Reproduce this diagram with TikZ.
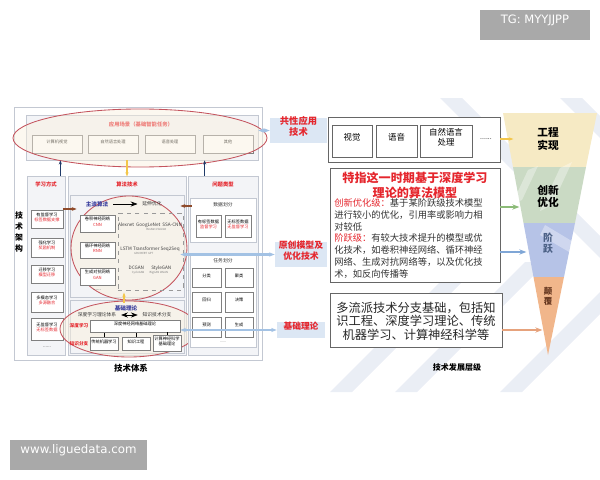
\documentclass[tikz,border=0pt]{standalone}
\usepackage{fontspec}
\setmainfont{Noto Sans CJK SC}
\newfontfamily\wmfont{DejaVu Sans}
\usetikzlibrary{arrows.meta,calc,fit}
\definecolor{panelg}{HTML}{F3F4F7}
\definecolor{frameg}{HTML}{C3C8D2}
\definecolor{cellg}{HTML}{808080}
\definecolor{hotred}{HTML}{E5262D}
\definecolor{ringred}{HTML}{C4545E}
\definecolor{ringfill}{HTML}{FAF1DE}
\definecolor{navy}{HTML}{1F3A68}
\definecolor{skyarr}{HTML}{A3C2E4}
\definecolor{skybox}{HTML}{DCE7F4}
\definecolor{rust}{HTML}{8E4A2A}
\definecolor{gold}{HTML}{F3C64A}
\definecolor{algoblue}{HTML}{3A3F9E}
\definecolor{fyellow}{HTML}{F6EAC4}
\definecolor{fgreen}{HTML}{CADAC4}
\definecolor{fblue}{HTML}{B6C3E7}
\definecolor{forange}{HTML}{F1B68B}
\definecolor{agreen}{HTML}{8CBB78}
\definecolor{ablue}{HTML}{7FA6D6}
\definecolor{aorange}{HTML}{E6A27C}
\definecolor{wmgray}{HTML}{A9A9A9}
\definecolor{stripe}{HTML}{DCE2EE}

\begin{document}
\begin{tikzpicture}[x=0.025cm, y=-0.025cm, >=Stealth,
    panel/.style={draw=frameg, fill=panelg, line width=0.5pt, inner sep=0pt},
    cell/.style={draw=cellg, fill=white, line width=0.4pt, inner sep=0pt, align=center,
      font=\fontsize{3}{3.8}\selectfont},
    ring/.style={draw=ringred, fill=ringfill, fill opacity=0.5, line width=0.6pt},
    coltitle/.style={text=hotred, font=\fontsize{3.8}{4.5}\selectfont\bfseries},
    subtitle/.style={text=black!80, font=\fontsize{3.4}{4}\selectfont},
    latin/.style={text=black!75, font=\fontsize{3.3}{4}\selectfont},
    skylabel/.style={fill=skybox, inner sep=0pt, align=center, text=hotred,
      font=\fontsize{6.6}{8}\selectfont\bfseries},
    textbox/.style={draw=black!60, fill=white, line width=0.5pt, inner sep=0pt},
    navyarr/.style={draw=navy, line width=1.1pt, -{Stealth[length=3pt]}},
    goldarr/.style={draw=gold, line width=0.9pt, -{Stealth[length=3pt]}},
    rustarr/.style={draw=rust, line width=1.6pt, -{Stealth[length=3.5pt]}},
    skyline/.style={draw=skyarr, line width=1.6pt, {Stealth[length=4pt]}-{Stealth[length=4pt]}},
    fanarr/.style={line width=1.8pt, -{Stealth[length=5pt]}},
    fanlabel/.style={align=center, font=\fontsize{7.6}{8.6}\selectfont\bfseries}]
\useasboundingbox (0,0) rectangle (600,480);

% watermark stripes behind the right half
\begin{scope}[fill=stripe, opacity=0.6]
  \fill (330,392) -- (352,392) -- (482,262) -- (460,262) -- cycle;
  \fill (395,392) -- (417,392) -- (547,262) -- (525,262) -- cycle;
  \fill (440,98) -- (462,98) -- (600,236) -- (600,258) -- cycle;
  \fill (500,392) -- (522,392) -- (600,314) -- (600,292) -- cycle;
  \fill (560,98) -- (582,98) -- (600,116) -- (600,138) -- cycle;
\end{scope}

% ---------- left: technology system ----------
\node[draw=frameg, fill=white, line width=0.5pt, inner sep=0pt, fit={(14,107) (262,360)}] (frame) {};
\node[align=center, font=\fontsize{5.6}{7.6}\selectfont\bfseries] (archlbl) at (19,232) {技\\术\\架\\构};

% application scenes
\node[panel, fit={(26,115) (258,160)}] (app) {};
\node[coltitle] (apptitle) at (141,124) {应用场景（基础智能任务）};
\node[cell, fit={(32,135) (82,153)}] (cv) {计算机视觉};
\node[cell, fit={(88,135) (138,153)}] (nlp) {自然语言处理};
\node[cell, fit={(145,135) (195,153)}] (speech) {语音处理};
\node[cell, fit={(203,135) (253,153)}] (other) {其他};

% learning modes
\node[panel, fit={(27,176) (65,355)}] (learn) {};
\node[coltitle] (learntitle) at (46,184) {学习方式};
\node[cell, fit={(31,210) (63,228)}] (sup) {有监督学习\\\textcolor{hotred}{标签数据支撑}};
\node[cell, fit={(31,238) (63,257)}] (rl) {强化学习\\\textcolor{hotred}{奖励机制}};
\node[cell, fit={(31,265) (63,283)}] (tl) {迁移学习\\\textcolor{hotred}{模型迁移}};
\node[cell, fit={(31,292) (63,312)}] (ml) {多模态学习\\\textcolor{hotred}{多源融合}};
\node[cell, fit={(31,318) (63,340)}] (unsup) {无监督学习\\\textcolor{hotred}{无标签数据}};
\node[subtitle] (learndots) at (47,347) {......};

% algorithm techniques
\node[panel, fit={(68,176) (186,355)}] (algo) {};
\node[coltitle] (algotitle) at (127,184) {算法技术};
\node[panel, fit={(70,195) (184,297)}] (mainsub) {};
\node[panel, fit={(70,300) (184,353)}] (theory) {};

\draw[ring] (129,248) ellipse [x radius=58, y radius=52];
\draw[ring] (129,329) ellipse [x radius=69, y radius=28];

\node[text=algoblue, font=\fontsize{4}{4.8}\selectfont\bfseries] (mainalg) at (97,204) {主流算法};
\node[subtitle] (extalg) at (152,204) {延伸优化};
\draw[->, line width=0.4pt] (mainalg) -- (extalg);
\node[cell, fit={(80,215) (115,232)}] (cnn) {卷积神经网络\\\textcolor{hotred}{CNN}};
\node[cell, fit={(80,242) (115,258)}] (rnn) {循环神经网络\\\textcolor{hotred}{RNN}};
\node[cell, fit={(80,268) (115,285)}] (gan) {生成对抗网络\\\textcolor{hotred}{GAN}};
\node[subtitle] (algdots) at (97,290) {......};
\node[draw=black!40, dashed, line width=0.3pt, inner sep=0pt, fit={(118,213) (183,290)}] (variants) {};
\node[latin, align=center] (cnnv) at (150,227) {Alexnet\ \ GoogLeNet\ \ SSA-CNN\\[-1pt]{\fontsize{2}{2.4}\selectfont\color{black!50}\ \ \ \ \ \ \ \ \ \ \ \ \ \ \ \ \ \ \ \ ResNet VGGNet}};
\node[latin, align=center] (rnnv) at (150,251) {LSTM\ Transformer\ Seq2Seq\\[-1pt]{\fontsize{2}{2.4}\selectfont\color{black!50}GRU BERT GPT\ \ \ \ \ \ \ \ \ \ \ \ \ \ \ \ \ \ \ \ }};
\node[latin, align=center] (ganv) at (150,270) {DCGAN\ \ \ \ \ \ \ StyleGAN\\[-1pt]{\fontsize{2}{2.4}\selectfont\color{black!50}CycleGAN\ \ \ \ \ \ \ \ BigGAN WGAN}};

% theory part
\node[text=algoblue, font=\fontsize{4}{4.8}\selectfont\bfseries] (thtitle) at (126,308) {基础理论};
\node[subtitle] (dlsys) at (97,315) {深度学习理论体系};
\node[subtitle] (kbranch) at (157,315) {知识技术分支};
\draw[<->, line width=0.4pt] (dlsys) -- (kbranch);
\node[coltitle, font=\fontsize{3.3}{4}\selectfont\bfseries] (dllbl) at (79,326) {深度学习};
\node[coltitle, font=\fontsize{3.3}{4}\selectfont\bfseries] (kblbl) at (79,344) {知识分支};
\node[cell, fit={(90,320) (180,332)}] (deepnn) {深度神经网络基础理论};
\node[cell, fit={(90,337) (118,350)}] (tradml) {传统机器学习};
\node[cell, fit={(122,337) (150,350)}] (keng) {知识工程};
\node[cell, fit={(153,335) (181,351)}] (neuro) {计算神经科学\\基础理论};
\draw[dashed, line width=0.3pt] (tradml.north) -- (tradml.north |- deepnn.south);
\draw[dashed, line width=0.3pt] (keng.north) -- (keng.north |- deepnn.south);
\draw[dashed, line width=0.3pt] (neuro.north) -- (neuro.north |- deepnn.south);

% problem types
\node[panel, fit={(188,176) (258,355)}] (prob) {};
\node[coltitle] (probtitle) at (223,184) {问题类型};
\node[panel, fill=white, fit={(190,198) (256,242)}] (datasub) {};
\node[subtitle] (datatitle) at (223,205) {数据划分};
\node[cell, fit={(196,215) (221,237)}] (labeled) {有标签数据\\\textcolor{hotred}{监督学习}};
\node[cell, fit={(225,215) (251,237)}] (unlabeled) {无标签数据\\\textcolor{hotred}{无监督学习}};
\node[panel, fill=white, fit={(190,253) (256,347)}] (tasksub) {};
\node[subtitle] (tasktitle) at (223,261) {任务划分};
\node[cell, fit={(192,268) (221,287)}] (t1) {分类};
\node[cell, fit={(225,268) (253,287)}] (t2) {聚类};
\node[cell, fit={(192,292) (221,312)}] (t3) {回归};
\node[cell, fit={(225,292) (253,312)}] (t4) {决策};
\node[cell, fit={(192,317) (221,337)}] (t5) {预测};
\node[cell, fit={(225,317) (253,337)}] (t6) {生成};
\node[subtitle, font=\fontsize{2.5}{3}\selectfont] (taskdots) at (223,342) {......};

\draw[ring, fill opacity=0.45] (140,138) ellipse [x radius=127, y radius=29];

% connectors inside the system
\coordinate (l1) at ($(learn.north east)+(-5,0)$);
\coordinate (p1) at ($(prob.north west)+(17,0)$);
\draw[navyarr] (l1) -- (l1 |- app.south);
\draw[navyarr] (p1) -- (p1 |- app.south);
\draw[goldarr] (app.south -| algotitle) -- (algotitle.north);
\draw[goldarr] ($(theory.north)+(-3,3)$) -- ($(theory.north)+(-3,-7)$);
\coordinate (r1) at ($(learn.east)+(-2,0)$);
\coordinate (r2) at ($(prob.west)+(4,0)$);
\draw[rustarr] (r1 |- 0,209) -- (mainsub.west |- 0,209) -- ++(7,0);
\draw[rustarr] (r2 |- 0,206) -- ($(mainsub.east |- 0,206)+(-4,0)$);

\node[font=\fontsize{6}{7}\selectfont\bfseries] (syscap) at (131,368) {技术体系};

% ---------- right: development levels ----------
\node[skylabel, fit={(270,118) (327,143)}] (apptech) {共性应用\\技术};
\node[textbox, fit={(328,117) (500,162)}] (techrow) {};
\node[cell, draw=black!60, font=\fontsize{6}{7.4}\selectfont, fit={(332,125) (372,157)}] (vision) {视觉};
\node[cell, draw=black!60, font=\fontsize{6}{7.4}\selectfont, fit={(376,125) (417,157)}] (voice) {语音};
\node[cell, draw=black!60, font=\fontsize{6}{7.4}\selectfont, fit={(420,125) (472,157)}] (natlang) {自然语言\\处理};
\node[font=\fontsize{5}{6}\selectfont] (techdots) at (486,139) {......};

\node[textbox, fit={(330,168) (500,282)}] (modelbox) {};
\node[text=hotred, align=center, font=\fontsize{8.6}{10.6}\selectfont\bfseries] (modeltitle) at (415,185) {特指这一时期基于深度学习\\理论的算法模型};
\node[anchor=north west, align=left, inner sep=0pt, text=black!80, font=\fontsize{6.6}{8.5}\selectfont]
  (modeltxt) at (334,198) {\textcolor{hotred}{创新优化级：}基于某阶跃级技术模型\\进行较小的优化，引用率或影响力相\\对较低\\\textcolor{hotred}{阶跃级：}有较大技术提升的模型或优\\化技术，如卷积神经网络、循环神经\\网络、生成对抗网络等，以及优化技\\术，如反向传播等};
\node[skylabel, font=\fontsize{6.3}{7.6}\selectfont\bfseries, fit={(275,242) (327,267)}] (orig) {原创模型及\\优化技术};

\node[textbox, fit={(330,293) (502,347)}] (foundbox) {};
\node[align=center, text=black!85, font=\fontsize{8.7}{9.7}\selectfont] (foundtxt) at (416,321) {多流派技术分支基础，包括知\\识工程、深度学习理论、传统\\机器学习、计算神经科学等};
\node[skylabel, font=\fontsize{6.2}{7.4}\selectfont\bfseries, fit={(277,322) (325,338)}] (basic) {基础理论};

\draw[skyline] (app.east |- apptech) -- (apptech.west);
\draw[skyline] ($(mainsub.east |- orig.west)+(-4,0)$) -- (orig.west);
\draw[skyline] ($(theory.east |- basic.west)+(-4,0)$) -- (basic.west);

% funnel of levels
\fill[fyellow] (503,113) -- (597,113) -- (586,167) -- (513,167) -- cycle;
\fill[fgreen] (513,167) -- (586,167) -- (575,223) -- (523.5,223) -- cycle;
\fill[fblue] (523.5,223) -- (575,223) -- (564,277) -- (533.5,277) -- cycle;
\fill[forange] (533.5,277) -- (564,277) -- (548,355) -- cycle;
\begin{scope}[fill=white, opacity=0.35]
  \fill (560,168) -- (572,162) -- (552,205) -- (540,211) -- cycle;
  \fill (528,170) -- (538,166) -- (522,200) -- (512,204) -- cycle;
  \fill (545,225) -- (600,258) -- (600,270) -- (540,235) -- cycle;
\end{scope}
\node[fanlabel] (engl) at (548,139) {工程\\实现};
\node[fanlabel] (innl) at (548,196) {创新\\优化};
\node[fanlabel, text=navy!80, font=\fontsize{7}{8}\selectfont\bfseries] (stepl) at (548,243) {阶\\跃};
\node[fanlabel, text=rust!70!black, font=\fontsize{6}{7}\selectfont\bfseries] (disl) at (548,296) {颠\\覆};

\draw[goldarr, line width=1.6pt] (techrow.east |- engl) -- ($(techrow.east |- engl)+(13,0)$);
\draw[fanarr, agreen] (modelbox.east |- innl) ++(0,11) coordinate (g1) -- ($(g1)+(19,0)$);
\draw[fanarr, ablue] (modelbox.east |- stepl) ++(0,9) coordinate (b1) -- ($(b1)+(26,0)$);
\draw[fanarr, aorange] (foundbox.east |- foundtxt) ++(0,9) coordinate (o1) -- ($(o1)+(40,0)$);

\node[font=\fontsize{5.7}{6.8}\selectfont\bfseries] (levcap) at (457,367) {技术发展层级};

% watermark tags
\node[fill=wmgray, text=white, inner sep=0pt, font=\wmfont\fontsize{8.2}{9}\selectfont, fit={(480,10) (590,40)}] (tgtag) {TG: MYYJJPP};
\node[fill=wmgray, text=white, inner sep=0pt, font=\wmfont\fontsize{8.4}{9}\selectfont, fit={(10,440) (147,470)}] (sitetag) {www.liguedata.com};
\end{tikzpicture}
\end{document}
